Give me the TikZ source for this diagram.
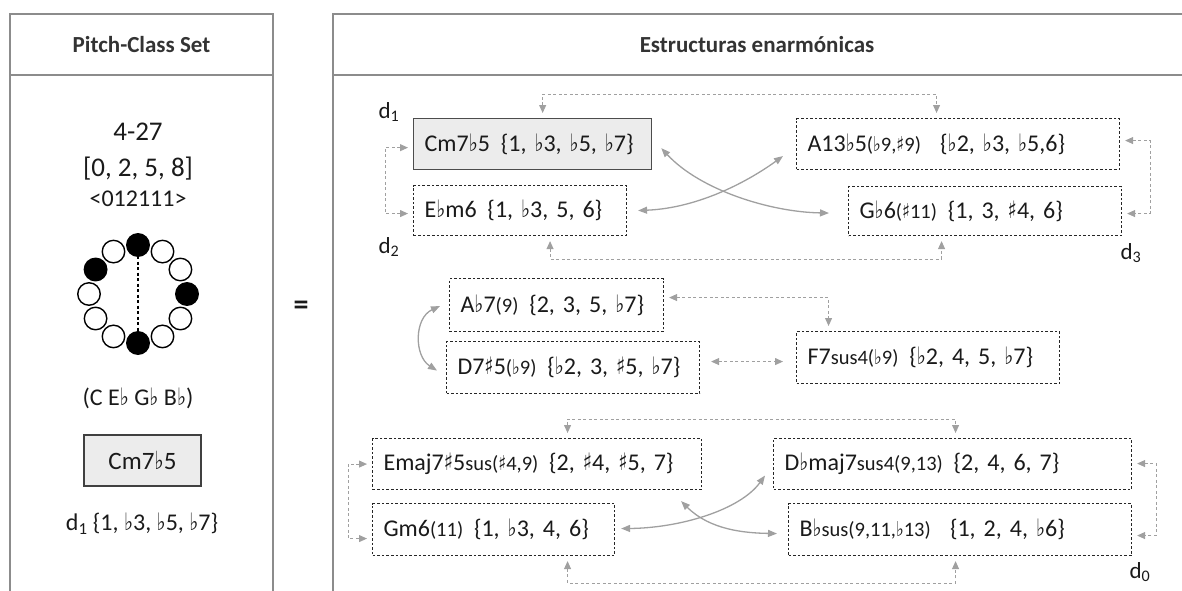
\documentclass[tikz,border=0pt]{standalone}
\usepackage{fontspec}
\usepackage{graphicx}
\setmainfont{Carlito}
\newfontfamily\symfont{DejaVu Sans}
\usetikzlibrary{arrows.meta}
\newcommand\fl{{\symfont\scalebox{0.8}[1]{♭}}}
\newcommand\shp{{\symfont\scalebox{0.8}[1]{♯}}}
\newcommand\smp[1]{{\fontsize{20.5}{24}\selectfont #1}}
\definecolor{txt}{HTML}{1A1A1A}
\definecolor{hdr}{HTML}{333333}
\definecolor{con}{HTML}{A0A0A0}
\definecolor{pan}{HTML}{8C8C8C}
\definecolor{sel}{HTML}{ECECEC}
\begin{document}
\begin{tikzpicture}[x=1pt,y=-1pt,font=\fontsize{24}{28}\selectfont,text=txt,
  panel/.style={draw=pan,line width=1.6pt},
  chord/.style={draw=black!85,line width=1.1pt,dash pattern=on 2.6pt off 2pt,anchor=north west,
    inner xsep=11pt,inner ysep=0pt,align=left},
  chordsel/.style={chord,solid,fill=sel,draw=black!70,line width=1.3pt},
  dcon/.style={draw=con,line width=0.9pt,dash pattern=on 3pt off 2.5pt,
    {Triangle[length=8pt,width=7pt]}-{Triangle[length=8pt,width=7pt]},shorten <=5pt,shorten >=5pt},
  scon/.style={draw=con,line width=1.3pt,
    {Triangle[length=9pt,width=7pt]}-{Triangle[length=9pt,width=7pt]}},
  pc/.style={circle,draw=black,line width=1.4pt,minimum size=22.5pt,inner sep=0pt},
  dl/.style={font=\fontsize{23}{26}\selectfont}]
\useasboundingbox (0,0) rectangle (1182,590);
% panels
\draw[panel] (10,600) -- (10,14) -- (273,14) -- (273,600);
\draw[panel] (10,75) -- (273,75);
\draw[panel] (333,600) -- (333,14) -- (1200,14);
\draw[panel] (333,75) -- (1200,75);
\node[text=hdr] (pcs) at (141.5,45) {\fontsize{23}{28}\selectfont\bfseries Pitch-Class Set};
\node[text=hdr] (est) at (757,45) {\fontsize{23}{28}\selectfont\bfseries Estructuras enarmónicas};
% left panel
\node (num) at (138,132) {\fontsize{27}{30}\selectfont 4-27};
\node (pf) at (138,169) {\fontsize{27}{30}\selectfont [0, 2, 5, 8]};
\node (iv) at (138,199) {<012111>};
\draw[black,line width=1.2pt,dash pattern=on 3pt off 2.5pt] (138,245) -- (138,343);
\foreach \i/\f in {0/black,1/white,2/white,3/black,4/white,5/white,6/black,7/white,8/white,9/white,10/black,11/white}
  \node[pc,fill=\f] (p\i) at ({138+49*sin(30*\i)},{294-49*cos(30*\i)}) {};
\node (notes) at (138,398) {(C E\fl{} G\fl{} B\fl)};
\node[draw=black!75,fill=sel,line width=1.3pt,minimum width=117pt,minimum height=51pt,inner sep=0pt] (cmL) at (142.5,460.5) {\fontsize{25}{30}\selectfont Cm7\fl5};
\node (dset) at (142,524) {d\textsubscript{1} \{1, \fl3, \fl5, \fl7\}};
\node (eq) at (301,308) {\fontsize{30}{34}\selectfont\bfseries =};
% row 1
\node[chordsel,text width=216pt,minimum height=51pt] (cm) at (413,118) {Cm7\fl5\hspace{0.45em}\{1, \fl3, \fl5, \fl7\}};
\node[chord,text width=191pt,minimum height=50pt] (eb) at (413,185) {E\fl m6\hspace{0.45em}\{1, \fl3, 5, 6\}};
\node[chord,text width=301pt,minimum height=51pt] (a13) at (796,118) {A13\fl5\smp{(\fl9,\shp9)}\hspace{0.8em}\{\fl2, \fl3, \fl5,6\}};
\node[chord,text width=251pt,minimum height=49pt] (gb6) at (848,186) {G\fl6\smp{(\shp11)}\hspace{0.45em}\{1, 3, \shp4, 6\}};
\node[dl] (d1) at (389,112) {d\textsubscript{1}};
\node[dl] (d2) at (389,247) {d\textsubscript{2}};
\node[dl] (d3) at (1131,253) {d\textsubscript{3}};
\draw[dcon] ([shift={(0,3.5)}]cm.west) -- ++(-28,0) |- ([shift={(0,3)}]eb.west);
\draw[dcon] ([shift={(10,0)}]cm.north) -- ++(0,-24) -| ([shift={(-21.5,0)}]a13.north);
\draw[dcon] ([shift={(0,-3.5)}]a13.east) -- ++(30,0) |- ([shift={(0,2.5)}]gb6.east);
\draw[dcon] ([shift={(30,0)}]eb.south) -- ++(0,23) -| ([shift={(-43.5,0)}]gb6.south);
\draw[scon] ([shift={(9,4)}]cm.east) .. controls (700,190) and (770,212) .. ([shift={(-19,2)}]gb6.west);
\draw[scon] ([shift={(11,0)}]eb.east) .. controls (700,208) and (750,180) .. ([shift={(-13,12)}]a13.west);
% row 2
\node[chord,text width=192pt,minimum height=53pt] (ab7) at (449,278) {A\fl7\smp{(9)}\hspace{0.45em}\{2, 3, 5, \fl7\}};
\node[chord,text width=231pt,minimum height=52pt] (d7) at (446,341) {D7\shp5\smp{(\fl9)}\hspace{0.45em}\{\fl2, 3, \shp5, \fl7\}};
\node[chord,text width=241pt,minimum height=52pt] (f7) at (796,331) {F7\smp{sus4(\fl9)}\hspace{0.45em}\{\fl2, 4, 5, \fl7\}};
\draw[scon] ([shift={(-9,1)}]ab7.west) .. controls (414,318) and (414,356) .. ([shift={(-9,3)}]d7.west);
\draw[dcon] ([shift={(0,-7.5)}]ab7.east) -| ([shift={(-99.5,0)}]f7.north);
\draw[dcon,shorten <=11pt,shorten >=13pt] ([shift={(0,-6)}]d7.east) -- ([shift={(0,4)}]f7.west);
% row 3
\node[chord,text width=307pt,minimum height=51pt] (emaj) at (372,438) {Emaj7\shp5\smp{sus(\shp4,9)}\hspace{0.45em}\{2, \shp4, \shp5, 7\}};
\node[chord,text width=220pt,minimum height=52pt] (gm6) at (372,503) {Gm6\smp{(11)}\hspace{0.45em}\{1, \fl3, 4, 6\}};
\node[chord,text width=336pt,minimum height=51pt] (dbmaj) at (773,438) {D\fl maj7\smp{sus4(9,13)}\hspace{0.45em}\{2, 4, 6, 7\}};
\node[chord,text width=321pt,minimum height=52pt] (bbsus) at (788,503) {B\fl\smp{sus(9,11,\fl13)}\hspace{0.8em}\{1, 2, 4, \fl6\}};
\node[dl] (d0) at (1140,572) {d\textsubscript{0}};
\draw[dcon] (emaj.west) -- ++(-24,0) |- ([shift={(0,9)}]gm6.west);
\draw[dcon] ([shift={(30.5,0)}]emaj.north) -- ++(0,-19) -| ([shift={(3,0)}]dbmaj.north);
\draw[dcon] ([shift={(0,-0.5)}]dbmaj.east) -- ++(24,0) |- ([shift={(0,6)}]bbsus.east);
\draw[dcon] ([shift={(74,0)}]gm6.south) -- ++(0,27) -| ([shift={(-4.5,0)}]bbsus.south);
\draw[scon] ([shift={(-21,11)}]emaj.south east) .. controls (710,530) and (745,533) .. ([shift={(-11,4)}]bbsus.west);
\draw[scon] ([shift={(6,-1)}]gm6.east) .. controls (680,528) and (740,510) .. ([shift={(-8,11.5)}]dbmaj.west);
\end{tikzpicture}
\end{document}
